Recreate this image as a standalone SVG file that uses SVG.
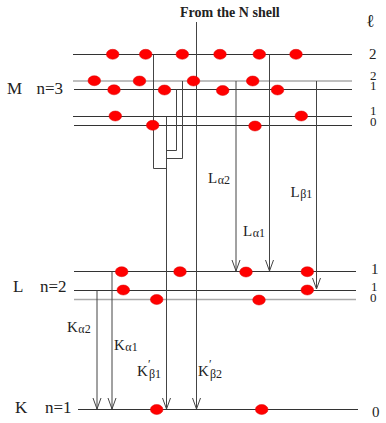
<svg xmlns="http://www.w3.org/2000/svg" width="386" height="423" viewBox="0 0 386 423">
<defs>
<style>
.lv{stroke:#333;stroke-width:1;fill:none}
.lg{stroke:#aaa;stroke-width:1.6;fill:none}
.tr{stroke:#444;stroke-width:1;fill:none}
.dot{fill:#f00;stroke:#d00;stroke-width:0.5}
text{font-family:"Liberation Serif","Times New Roman",serif;fill:#222}
.big{font-size:17px}
.num{font-size:15px}
.sm{font-size:13px}
.lab{font-size:15px}
.sub{font-size:12px}
</style>
<marker id="ah" viewBox="-11 -5 12 10" refX="0" refY="0" markerWidth="12" markerHeight="10" markerUnits="userSpaceOnUse" orient="auto" overflow="visible">
<path d="M-11,-4 L0,0 L-11,4" fill="none" stroke="#444" stroke-width="1"/>
</marker>
</defs>
<rect width="386" height="423" fill="#fff"/>

<g id="levels">
<line class="lv" x1="73" y1="54.5" x2="352" y2="54.5"/>
<line class="lg" x1="73" y1="81" x2="352" y2="81"/>
<line class="lv" x1="74" y1="89.5" x2="352" y2="89.5"/>
<line class="lv" x1="73" y1="116.5" x2="352" y2="116.5"/>
<line class="lv" x1="74" y1="125.5" x2="352" y2="125.5"/>
<line class="lv" x1="74" y1="271.5" x2="356" y2="271.5"/>
<line class="lv" x1="74" y1="290.5" x2="356" y2="290.5"/>
<line class="lg" x1="74" y1="299.5" x2="356" y2="299.5"/>
<line class="lv" x1="78" y1="409.5" x2="358" y2="409.5"/>
</g>

<g id="connectors">
<polyline class="tr" points="153.5,54.5 153.5,168.5 166.5,168.5"/>
<polyline class="tr" points="176.5,89.5 176.5,150.5 166.5,150.5"/>
<polyline class="tr" points="182.5,81 182.5,158.5 166.5,158.5"/>
<line class="tr" x1="166.5" y1="116.5" x2="166.5" y2="409" marker-end="url(#ah)"/>
<line class="tr" x1="196.5" y1="22" x2="196.5" y2="409" marker-end="url(#ah)"/>
<line class="tr" x1="236" y1="81" x2="236" y2="271" marker-end="url(#ah)"/>
<line class="tr" x1="269.5" y1="54.5" x2="269.5" y2="271" marker-end="url(#ah)"/>
<line class="tr" x1="316.5" y1="81" x2="316.5" y2="289" marker-end="url(#ah)"/>
<line class="tr" x1="97" y1="290.5" x2="97" y2="409" marker-end="url(#ah)"/>
<line class="tr" x1="112" y1="271.5" x2="112" y2="409" marker-end="url(#ah)"/>
</g>

<g id="electrons">
<ellipse class="dot" cx="112.7" cy="54.3" rx="6.3" ry="5"/>
<ellipse class="dot" cx="145.7" cy="54.3" rx="6.3" ry="5"/>
<ellipse class="dot" cx="182.3" cy="54.3" rx="6.3" ry="5"/>
<ellipse class="dot" cx="220" cy="54.3" rx="6.3" ry="5"/>
<ellipse class="dot" cx="259.3" cy="54.3" rx="6.3" ry="5"/>
<ellipse class="dot" cx="296" cy="54.3" rx="6.3" ry="5"/>
<ellipse class="dot" cx="94.3" cy="80.7" rx="6.3" ry="5"/>
<ellipse class="dot" cx="139.5" cy="81" rx="6.3" ry="5"/>
<ellipse class="dot" cx="193.5" cy="81" rx="6.3" ry="5"/>
<ellipse class="dot" cx="252.7" cy="81" rx="6.3" ry="5"/>
<ellipse class="dot" cx="114" cy="89.8" rx="6.3" ry="5"/>
<ellipse class="dot" cx="164.5" cy="90" rx="6.3" ry="5"/>
<ellipse class="dot" cx="222.7" cy="90.5" rx="6.3" ry="5"/>
<ellipse class="dot" cx="277.5" cy="90" rx="6.3" ry="5"/>
<ellipse class="dot" cx="115.3" cy="116" rx="6.3" ry="5"/>
<ellipse class="dot" cx="301.3" cy="116" rx="6.3" ry="5"/>
<ellipse class="dot" cx="152.7" cy="125.3" rx="6.3" ry="5"/>
<ellipse class="dot" cx="255" cy="126" rx="6.3" ry="5"/>
<ellipse class="dot" cx="121.7" cy="271.7" rx="6.3" ry="5"/>
<ellipse class="dot" cx="180" cy="271.7" rx="6.3" ry="5"/>
<ellipse class="dot" cx="246" cy="272" rx="6.3" ry="5"/>
<ellipse class="dot" cx="307.3" cy="271.7" rx="6.3" ry="5"/>
<ellipse class="dot" cx="123.3" cy="290" rx="6.3" ry="5"/>
<ellipse class="dot" cx="307.3" cy="290" rx="6.3" ry="5"/>
<ellipse class="dot" cx="156.7" cy="299.5" rx="6.3" ry="5"/>
<ellipse class="dot" cx="259" cy="300" rx="6.3" ry="5"/>
<ellipse class="dot" cx="156.7" cy="409.5" rx="6.3" ry="5"/>
<ellipse class="dot" cx="261.7" cy="409.5" rx="6.3" ry="5"/>
</g>

<g id="shell-labels">
<text class="big" x="7" y="94">M</text>
<text class="big" x="36.5" y="94">n=3</text>
<text class="big" x="13" y="292">L</text>
<text class="big" x="40" y="292">n=2</text>
<text class="big" x="15" y="413">K</text>
<text class="big" x="45" y="413">n=1</text>
</g>

<g id="l-labels">
<text x="366" y="27" style="font-family:'DejaVu Serif',serif;font-size:18px">ℓ</text>
<text class="num" x="369" y="58.5">2</text>
<text class="sm" x="370" y="79.5">2</text>
<text class="sm" x="370" y="89.5">1</text>
<text class="sm" x="370" y="114.5">1</text>
<text class="sm" x="370" y="125.5">0</text>
<text class="num" x="371" y="274">1</text>
<text class="sm" x="371" y="290.5">1</text>
<text class="sm" x="370" y="302">0</text>
<text class="num" x="372" y="417">0</text>
</g>

<g id="title">
<text x="180" y="17" style="font-size:14px;font-weight:bold">From the N shell</text>
</g>

<g id="transition-labels">
<text class="lab" x="208" y="183">L<tspan class="sub" dx="0.5" dy="0.5">α2</tspan></text>
<text class="lab" x="243" y="236">L<tspan class="sub" dx="0.5" dy="0.5">α1</tspan></text>
<text class="lab" x="290.5" y="197">L<tspan class="sub" dx="0.5" dy="0.5">β1</tspan></text>
<text class="lab" x="67" y="332">K<tspan class="sub" dx="0.5" dy="0.5">α2</tspan></text>
<text class="lab" x="114" y="350">K<tspan class="sub" dx="0.5" dy="0.5">α1</tspan></text>
<text class="lab" x="137" y="376">K<tspan class="sub" x="148" y="368">′</tspan><tspan class="sub" x="149" y="378">β1</tspan></text>
<text class="lab" x="198" y="376">K<tspan class="sub" x="209" y="368">′</tspan><tspan class="sub" x="210" y="378">β2</tspan></text>
</g>
</svg>
